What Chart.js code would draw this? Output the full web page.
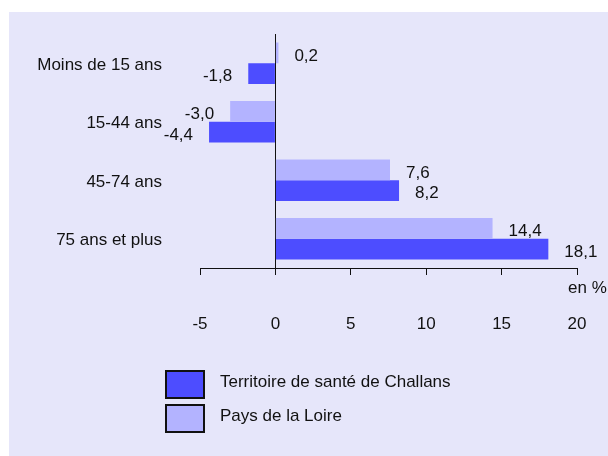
<!DOCTYPE html>
<html>
<head>
<meta charset="utf-8">
<script src="https://cdn.jsdelivr.net/npm/chart.js@4/dist/chart.umd.min.js"></script>
<style>
  body { margin: 0; background: #fff; }
  #wrap { position: relative; width: 608px; height: 456px; overflow: hidden; }
  #panel { position: absolute; left: 9px; top: 12px; right: 0; bottom: 0; background: #e6e6fa; }
  #chart { position: absolute; left: 0; top: 0; }
  .box { position: absolute; left: 165px; width: 36px; height: 25px; border: 2px solid #111; }
  .lbl { position: absolute; left: 220px; font: 17px "Liberation Sans", Arial, sans-serif; line-height: 20px; color: #111; white-space: nowrap; }
</style>
</head>
<body>
<div id="wrap">
  <div id="panel"></div>
  <canvas id="chart" width="608" height="456"></canvas>
  <div class="box" style="top:370px;background:#4d4dff"></div>
  <div class="lbl" style="top:372px">Territoire de santé de Challans</div>
  <div class="box" style="top:404px;background:#b3b3ff"></div>
  <div class="lbl" style="top:406px">Pays de la Loire</div>
</div>
<script>
// categories and values
const ages = ['Moins de 15 ans', '15-44 ans', '45-74 ans', '75 ans et plus'];
const challans = [-1.8, -4.4, 8.2, 18.1];
const paysLoire = [0.2, -3.0, 7.6, 14.4];
const xTicks = [-5, 0, 5, 10, 15, 20];

const fontFamily = '"Liberation Sans", Arial, sans-serif';

// value labels next to each bar
const barLabels = {
  id: 'barLabels',
  afterDatasetsDraw(chart) {
    const ctx = chart.ctx;
    ctx.save();
    ctx.font = '17px ' + fontFamily;
    ctx.fillStyle = '#111';
    ctx.textBaseline = 'middle';
    chart.data.datasets.forEach((ds, i) => {
      chart.getDatasetMeta(i).data.forEach((bar, j) => {
        const v = ds.data[j];
        const txt = v.toFixed(1).replace('.', ',');
        if (v >= 0) {
          ctx.textAlign = 'left';
          ctx.fillText(txt, bar.x + 16, bar.y + 3);
        } else {
          ctx.textAlign = 'right';
          ctx.fillText(txt, bar.x - 16, bar.y + 3);
        }
      });
    });
    // unit
    ctx.textAlign = 'left';
    ctx.textBaseline = 'alphabetic';
    ctx.fillText('en %', chart.chartArea.right - 9, chart.chartArea.bottom + 25);
    ctx.restore();
  }
};

new Chart(document.getElementById('chart'), {
  type: 'bar',
  data: {
    labels: ages,
    datasets: [
      { label: 'Pays de la Loire', data: paysLoire, backgroundColor: '#b3b3ff' },
      { label: 'Territoire de santé de Challans', data: challans, backgroundColor: '#4d4dff' }
    ]
  },
  options: {
    indexAxis: 'y',
    responsive: false,
    animation: false,
    devicePixelRatio: 1,
    categoryPercentage: 0.71,
    barPercentage: 1,
    layout: { padding: { top: 34, right: 31, left: 0, bottom: 0 } },
    plugins: {
      legend: { display: false },
      title: { display: false },
      tooltip: { enabled: false }
    },
    scales: {
      x: {
        min: xTicks[0],
        max: xTicks[xTicks.length - 1],
        afterBuildTicks: (scale) => { scale.ticks = xTicks.map(v => ({ value: v })); },
        afterFit: (scale) => { scale.height = 188; },
        border: { display: true, color: '#111', width: 1 },
        grid: {
          drawOnChartArea: true,
          color: (c) => (c.tick && c.tick.value === 0 ? '#111' : 'rgba(0,0,0,0)'),
          tickColor: '#111',
          tickLength: 7
        },
        ticks: {
          padding: 0,
          color: '#111',
          maxRotation: 0,
          font: { size: 17, family: fontFamily, lineHeight: '98px' },
          callback: (v) => String(v)
        }
      },
      y: {
        afterFit: (scale) => { scale.width = 200; },
        border: { display: false },
        grid: { display: false, drawTicks: true, tickLength: 38 },
        ticks: {
          padding: 0,
          labelOffset: 2,
          color: '#111',
          font: { size: 17, family: fontFamily }
        }
      }
    }
  },
  plugins: [barLabels]
});
</script>
</body>
</html>
